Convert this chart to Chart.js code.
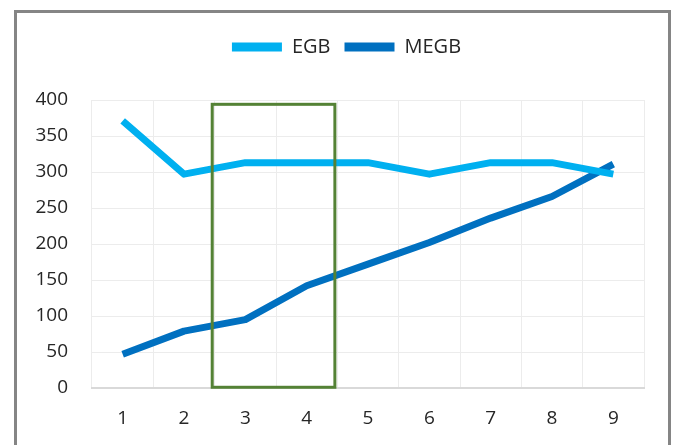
<!DOCTYPE html>
<html>
<head>
<meta charset="utf-8">
<script src="https://cdn.jsdelivr.net/npm/chart.js@4/dist/chart.umd.min.js"></script>
<style>
  html, body { margin: 0; padding: 0; background: #ffffff; }
  #wrap { width: 674px; height: 445px; position: relative; }
</style>
</head>
<body>
<div id="wrap"><canvas id="c" width="674" height="445"></canvas></div>
<script>
// Categories along the x axis
const categories = ['1', '2', '3', '4', '5', '6', '7', '8', '9'];

// Series values
const egb  = [371, 297, 313, 313, 313, 297, 313, 313, 297];
const megb = [47, 79, 95, 142, 172, 202, 236, 266, 311];

// Y axis range and tick step
const yTicks = { min: 0, max: 400, step: 50 };

// Highlighted category span (index units) and its value height
const highlightSpan = { from: 1.46, to: 3.46, bottom: 1, top: 394 };

// Outer frame and highlight box drawn around the plot
const framePlugin = {
  id: 'frame',
  beforeDraw(chart) {
    const ctx = chart.ctx;
    ctx.save();
    ctx.fillStyle = '#ffffff';
    ctx.fillRect(0, 0, chart.width, chart.height);
    ctx.strokeStyle = '#858585';
    ctx.lineWidth = 3;
    ctx.strokeRect(15.5, 11.5, 654, 460);
    ctx.restore();
  },
  afterDatasetsDraw(chart) {
    const { ctx, scales: { x, y } } = chart;
    const x0 = x.getPixelForValue(highlightSpan.from);
    const x1 = x.getPixelForValue(highlightSpan.to);
    const y0 = y.getPixelForValue(highlightSpan.top);
    const y1 = y.getPixelForValue(highlightSpan.bottom);
    ctx.save();
    ctx.strokeStyle = '#548235';
    ctx.lineWidth = 3;
    ctx.strokeRect(x0, y0, x1 - x0, y1 - y0);
    ctx.restore();
  }
};

// Extra room below the legend and a small rightward nudge of its items
const legendSpacing = {
  id: 'legendSpacing',
  afterInit(chart) {
    const legend = chart.legend;
    const fit = legend.fit;
    legend.fit = function () {
      fit.call(this);
      this.height += 33;
    };
  },
  afterLayout(chart) {
    chart.legend.left += 17;
    chart.legend.right += 17;
  }
};

const tickFont = { family: '"Open Sans", sans-serif', size: 19 };

new Chart(document.getElementById('c'), {
  type: 'line',
  data: {
    labels: categories,
    datasets: [
      {
        label: 'EGB',
        data: egb,
        borderColor: '#00B0F0',
        backgroundColor: '#00B0F0',
        borderWidth: 7,
        pointRadius: 0,
        tension: 0,
        borderJoinStyle: 'round'
      },
      {
        label: 'MEGB',
        data: megb,
        borderColor: '#0070C0',
        backgroundColor: '#0070C0',
        borderWidth: 7,
        pointRadius: 0,
        tension: 0,
        borderJoinStyle: 'round'
      }
    ]
  },
  options: {
    responsive: false,
    animation: false,
    devicePixelRatio: 1,
    layout: { padding: { left: 15, right: 30, top: 23, bottom: 0 } },
    plugins: {
      legend: {
        position: 'top',
        align: 'center',
        labels: {
          boxWidth: 50,
          boxHeight: 9,
          padding: 14,
          color: '#262626',
          font: { family: '"Open Sans", sans-serif', size: 20 },
          generateLabels(chart) {
            return Chart.defaults.plugins.legend.labels.generateLabels(chart).map(l => {
              l.fillStyle = l.strokeStyle;
              l.lineWidth = 0;
              return l;
            });
          }
        }
      },
      tooltip: { enabled: false }
    },
    scales: {
      x: {
        offset: true,
        grid: { offset: true, color: '#ECECEC', lineWidth: 1, drawTicks: false },
        border: { color: '#D9D9D9', width: 2 },
        ticks: { color: '#262626', font: tickFont, padding: 19, maxRotation: 0 },
        afterFit(scale) { scale.height = 57; }
      },
      y: {
        min: yTicks.min,
        max: yTicks.max,
        grid: { color: '#ECECEC', lineWidth: 1, drawTicks: false },
        border: { display: false },
        ticks: { stepSize: yTicks.step, color: '#262626', font: tickFont, padding: 24 },
        afterFit(scale) { scale.width = 77; }
      }
    }
  },
  plugins: [framePlugin, legendSpacing]
});
</script>
</body>
</html>
